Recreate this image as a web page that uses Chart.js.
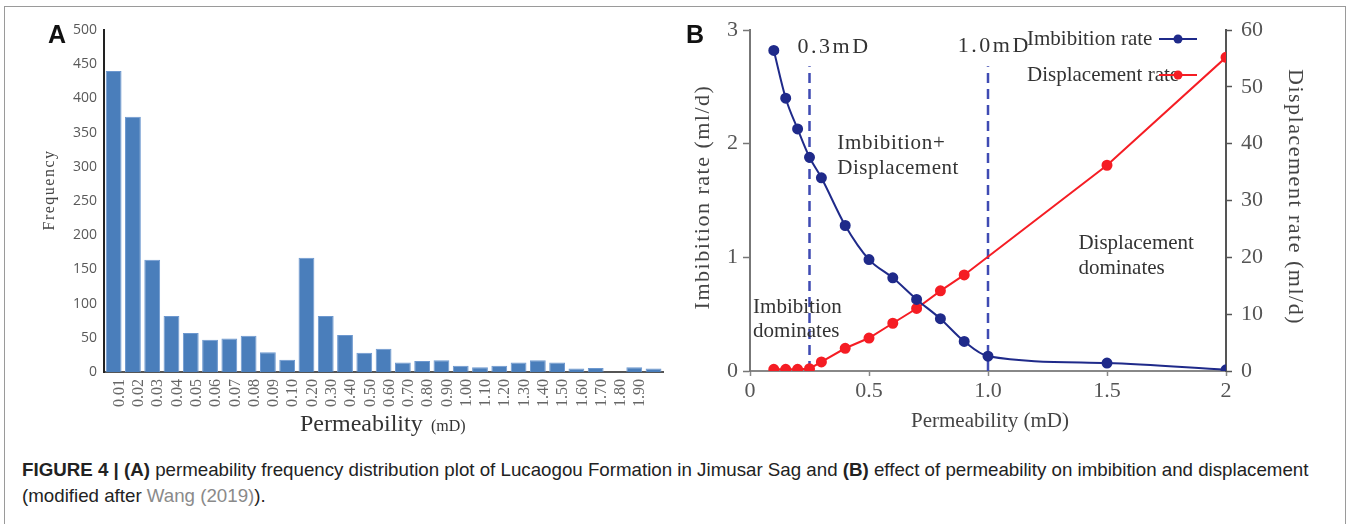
<!DOCTYPE html>
<html>
<head>
<meta charset="utf-8">
<script src="https://cdn.jsdelivr.net/npm/chart.js@4.4.0/dist/chart.umd.min.js"></script>
<style>
body { margin: 0; background: #fff; width: 1352px; height: 524px; overflow: hidden; position: relative; }
#frame { position: absolute; left: 4px; top: 6px; width: 1340px; height: 540px; border: 1px solid #9a9a9a; }
canvas { position: absolute; top: 0; }
#chartA { left: 0; }
#chartB { left: 680px; }
.panel { position: absolute; font: bold 25px "Liberation Sans", Arial, sans-serif; line-height: 25px; color: #111; }
#caption { position: absolute; left: 22px; top: 457px; font-family: "Liberation Sans", Arial, sans-serif; font-size: 19px; line-height: 26px; color: #222; white-space: nowrap; transform: scaleX(0.985); transform-origin: left top; }
#caption .ref { color: #8a8a8a; }
</style>
</head>
<body>
<div id="frame"></div>
<canvas id="chartA" width="680" height="440"></canvas>
<canvas id="chartB" width="665" height="440"></canvas>
<div class="panel" style="left:48px; top:22px;">A</div>
<div class="panel" style="left:686px; top:22px;">B</div>
<div id="caption"><b>FIGURE 4 | (A)</b> permeability frequency distribution plot of Lucaogou Formation in Jimusar Sag and <b>(B)</b> effect of permeability on imbibition and displacement<br>(modified after <span class="ref">Wang (2019)</span>).</div>
<script>
// panel A: permeability bins (last bar has no label in the source figure)
const permBins = ['0.01', '0.02', '0.03', '0.04', '0.05', '0.06', '0.07', '0.08', '0.09', '0.10',
	'0.20', '0.30', '0.40', '0.50', '0.60', '0.70', '0.80', '0.90',
	'1.00', '1.10', '1.20', '1.30', '1.40', '1.50', '1.60', '1.70', '1.80', '1.90', ''];
const frequency = [440, 373, 164, 82, 57, 47, 49, 53, 29, 18,
	167, 82, 54, 28, 34, 14, 16, 17,
	9, 7, 9, 14, 17, 14, 5, 6, 0, 7, 5];

// panel B: permeability (mD) vs rates (ml/d)
const permImb = [0.1, 0.15, 0.2, 0.25, 0.3, 0.4, 0.5, 0.6, 0.7, 0.8, 0.9, 1.0, 1.5, 2.0];
const imbibition = [2.82, 2.40, 2.13, 1.88, 1.70, 1.28, 0.98, 0.82, 0.63, 0.46, 0.26, 0.13, 0.07, 0.01];
const permDisp = [0.1, 0.15, 0.2, 0.25, 0.3, 0.4, 0.5, 0.6, 0.7, 0.8, 0.9, 1.5, 2.0];
const displacement = [0.3, 0.3, 0.3, 0.4, 1.6, 4.0, 5.8, 8.4, 11.0, 14.1, 16.9, 36.2, 55.2];
const boundaries = [0.25, 1.0];
const boundaryTop = 2.68;

const SERIF = '"Liberation Serif", "Times New Roman", serif';
const IMB_COLOR = '#1f2a8a';
const DISP_COLOR = '#f51d24';

const drawText = (ctx, text, x, y, size, opts = {}) => {
	ctx.save();
	ctx.font = `${size}px ${opts.family || SERIF}`;
	ctx.fillStyle = opts.color || '#333';
	ctx.letterSpacing = (opts.spacing || 0) + 'px';
	ctx.textAlign = opts.align || 'left';
	ctx.textBaseline = 'middle';
	ctx.translate(x, y);
	if (opts.rotate) ctx.rotate(opts.rotate);
	ctx.fillText(text, 0, 0);
	ctx.restore();
};

new Chart(document.getElementById('chartA'), {
	type: 'bar',
	data: {
		labels: permBins,
		datasets: [{
			data: frequency,
			backgroundColor: '#4a7ebb',
			borderColor: '#6d98cf',
			borderWidth: 1,
			categoryPercentage: 1,
			barPercentage: 0.82
		}]
	},
	options: {
		responsive: false,
		animation: false,
		devicePixelRatio: 1,
		layout: { padding: { top: 30, right: 15, left: 0, bottom: 0 } },
		plugins: { legend: { display: false }, tooltip: { enabled: false } },
		scales: {
			x: {
				grid: { display: false, drawTicks: false },
				border: { color: '#555', width: 2 },
				ticks: {
					autoSkip: false, minRotation: 90, maxRotation: 90, labelOffset: 6, padding: 7,
					color: '#666', font: { family: SERIF, size: 16 }
				},
				afterFit: s => { s.height = 68; }
			},
			y: {
				min: 0,
				max: 500,
				grid: { display: false, drawTicks: false },
				border: { color: '#222', width: 2 },
				ticks: { stepSize: 50, padding: 7, color: '#595959', font: { family: '"Open Sans", sans-serif', size: 14 } },
				afterFit: s => { s.width = 104; }
			}
		}
	},
	plugins: [{
		id: 'titlesA',
		afterDraw: chart => {
			const ctx = chart.ctx;
			drawText(ctx, 'Frequency', 50, 190, 16, { align: 'center', rotate: -Math.PI / 2, spacing: 1.5, color: '#444' });
			drawText(ctx, 'Permeability', 300, 425, 24, { color: '#333' });
			drawText(ctx, '(mD)', 431, 427, 16, { color: '#333' });
		}
	}]
});

new Chart(document.getElementById('chartB'), {
	type: 'line',
	data: {
		datasets: [
			{
				label: 'Imbibition rate',
				data: permImb.map((x, i) => ({ x, y: imbibition[i] })),
				borderColor: IMB_COLOR,
				backgroundColor: IMB_COLOR,
				borderWidth: 2,
				pointRadius: 4.5,
				cubicInterpolationMode: 'monotone',
				yAxisID: 'y',
				order: 1
			},
			{
				label: 'Displacement rate',
				data: permDisp.map((x, i) => ({ x, y: displacement[i] })),
				borderColor: DISP_COLOR,
				backgroundColor: DISP_COLOR,
				borderWidth: 2,
				pointRadius: 4.5,
				yAxisID: 'y1',
				order: 2
			},
			...boundaries.map(b => ({
				label: '',
				data: [{ x: b, y: 0 }, { x: b, y: boundaryTop }],
				borderColor: '#3f4bb3',
				borderWidth: 2.5,
				borderDash: [10, 6],
				pointRadius: 0,
				yAxisID: 'y',
				order: 3
			}))
		]
	},
	options: {
		responsive: false,
		animation: false,
		devicePixelRatio: 1,
		layout: { padding: { top: 30, right: 0, left: 0, bottom: 0 } },
		plugins: { legend: { display: false }, tooltip: { enabled: false } },
		scales: {
			x: {
				type: 'linear',
				min: 0,
				max: 2,
				grid: { drawOnChartArea: false, tickLength: 5, color: '#888', tickWidth: 1.5 },
				border: { color: '#888', width: 2 },
				ticks: {
					stepSize: 0.5, padding: 2, color: '#555', font: { family: SERIF, size: 22 },
					callback: v => (v === 0 || v === 2) ? String(v) : v.toFixed(1)
				},
				afterFit: s => { s.height = 69; }
			},
			y: {
				position: 'left',
				min: 0,
				max: 3,
				grid: { drawOnChartArea: false, tickLength: 7, color: '#777', tickWidth: 1.5 },
				border: { color: '#777', width: 2 },
				ticks: { stepSize: 1, padding: 5, color: '#555', font: { family: SERIF, size: 22 } },
				afterFit: s => { s.width = 70; }
			},
			y1: {
				position: 'right',
				min: 0,
				max: 60,
				grid: { drawOnChartArea: false, tickLength: 6, color: '#555', tickWidth: 1.5 },
				border: { color: '#555', width: 2 },
				ticks: { stepSize: 10, padding: 9, color: '#555', font: { family: SERIF, size: 22 } },
				afterFit: s => { s.width = 119; }
			}
		}
	},
	plugins: [{
		id: 'decorB',
		afterDraw: chart => {
			const ctx = chart.ctx;
			const { x, y } = chart.scales;
			const area = chart.chartArea;

			// axis titles
			drawText(ctx, 'Imbibition rate (ml/d)', 23, 197, 22, { align: 'center', rotate: -Math.PI / 2, spacing: 1.5, color: '#444' });
			drawText(ctx, 'Displacement rate (ml/d)', 615, 197, 22, { align: 'center', rotate: Math.PI / 2, spacing: 1.5, color: '#444' });
			drawText(ctx, 'Permeability (mD)', (area.left + area.right) / 2 + 2, 421, 21, { align: 'center', color: '#444' });

			// region labels
			const notes = [
				['0.3mD', 0.20, 2.85, 2.5, 22],
				['1.0mD', 0.873, 2.86, 2.5, 22],
				['Imbibition+', 0.367, 2.005, 0.7, 21],
				['Displacement', 0.367, 1.785, 0.5, 21],
				['Imbibition', 0.013, 0.563, 0, 21],
				['dominates', 0.013, 0.352, 0, 21],
				['Displacement', 1.38, 1.126, 0, 21],
				['dominates', 1.38, 0.906, 0, 21]
			];
			notes.forEach(([text, px, py, sp, size]) => {
				drawText(ctx, text, x.getPixelForValue(px), y.getPixelForValue(py), size, { spacing: sp, color: '#333' });
			});

			// legend: text first, sample line + marker to the right
			chart.data.datasets.slice(0, 2).forEach((ds, i) => {
				const ly = 39 + i * 36;
				drawText(ctx, ds.label, 347, ly, 21, { color: '#333' });
				ctx.save();
				ctx.strokeStyle = ds.borderColor;
				ctx.lineWidth = 2;
				ctx.beginPath();
				ctx.moveTo(479, ly);
				ctx.lineTo(517, ly);
				ctx.stroke();
				ctx.fillStyle = ds.backgroundColor;
				ctx.beginPath();
				ctx.arc(498, ly, 4.5, 0, Math.PI * 2);
				ctx.fill();
				ctx.restore();
			});
		}
	}]
});
</script>
</body>
</html>
